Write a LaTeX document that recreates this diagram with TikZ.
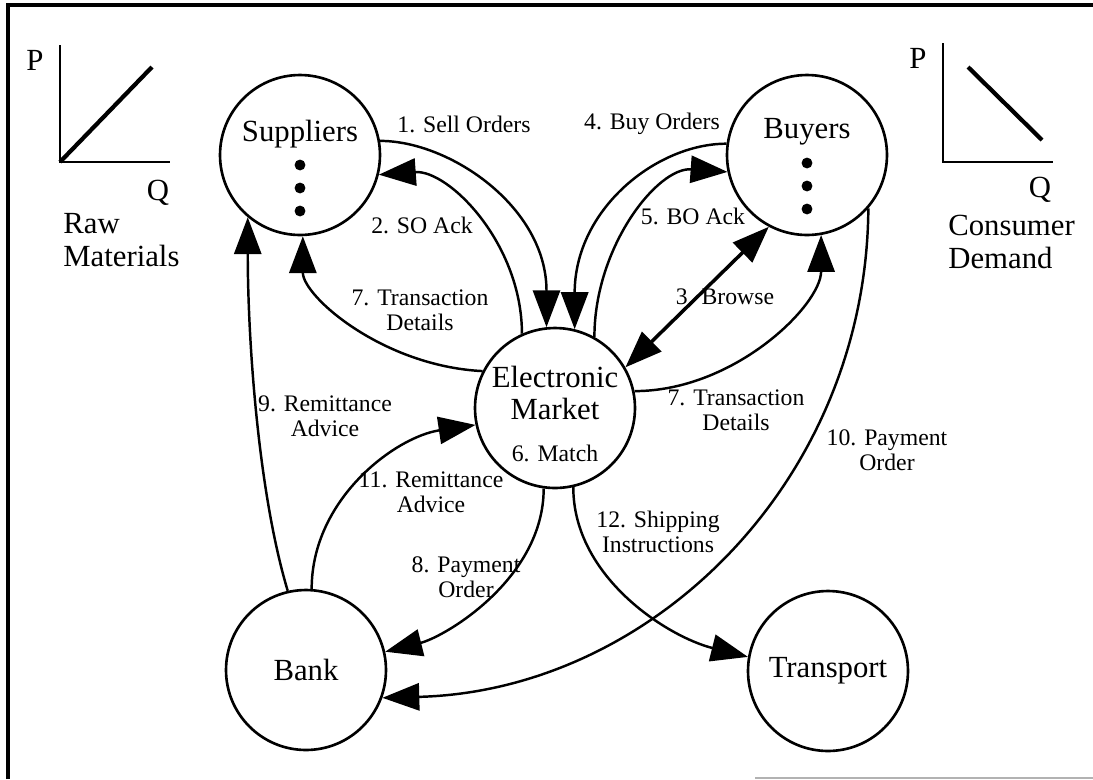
\documentclass[tikz,border=0pt]{standalone}
\usepackage{fontspec}
\setmainfont{Liberation Serif}
\usepackage{tikz}
\usetikzlibrary{arrows.meta, positioning, calc, shapes}

\newcommand{\bigsz}{\fontsize{17.5}{18.5}\selectfont}
\newcommand{\smallsz}{\fontsize{13.5}{14}\selectfont}

\begin{document}
\begin{tikzpicture}[x=0.02cm, y=-0.02cm,
		party/.style={circle, draw, line width=1.5pt, minimum size=3.2cm, inner sep=0pt, font=\bigsz},
		flow/.style={line width=1.4pt, -{Triangle[length=21pt,width=15.5pt]}},
		lbl/.style={font=\smallsz, align=center, inner sep=0pt},
		big/.style={font=\bigsz, align=left, inner sep=0pt}]
		\useasboundingbox (0,0) rectangle (1093,779);
		
		% Frame
		\draw[line width=1.8pt] (8,779) -- (8,5) -- (1093,5);
		\draw[gray!60, line width=1pt] (755,778) -- (1093,778);
		
		% Supply and demand sketches
		\draw[line width=1.2pt] (60,45) -- (60,162) -- (170,162);
		\draw[line width=2.4pt] (60,162) -- (152,67);
		\node[big] (p1) at (35,60) {P};
		\node[big] (q1) at (158,193) {Q};
		\node[big, anchor=west] (raw) at (63,240) {Raw\\Materials};
		\draw[line width=1.2pt] (943,43) -- (943,162) -- (1053,162);
		\draw[line width=2.4pt] (968,67) -- (1042,140);
		\node[big] (p2) at (918,58) {P};
		\node[big] (q2) at (1040,190) {Q};
		\node[big, anchor=west] (cons) at (948,242) {Consumer\\Demand};
		
		% Parties
		\node[party] (sup) at (300,155) {};
		\node[party] (buy) at (807,155) {};
		\node[party] (mkt) at (555,408) {};
		\node[party] (bank) at (306,670) {Bank};
		\node[party] (trans) at (828,671) {Transport};
		\node[font=\bigsz] (suptxt) at (300,134) {Suppliers};
		\node[font=\bigsz] (buytxt) at (807,132) {Buyers};
		\node[font=\bigsz, align=center] (mkttxt) at (555,393) {Electronic\\Market};
		\node[lbl] (match) at (555,453) {6. Match};
		\foreach \y in {165,188,211} {
			\fill (300,\y) circle[radius=3.1pt];
			\fill (807,\y-2) circle[radius=3.1pt];
		}
		
		% Flows
		\draw[flow] (sup.10) .. controls +(70,0) and +(0,-120) .. (mkt.96);
		\draw[flow] (mkt.114) .. controls +(0,-90) and +(70,-5) .. (sup.-14);
		\draw[flow] (buy.172) .. controls +(-70,0) and +(0,-120) .. (mkt.76);
		\draw[flow] (mkt.61) .. controls +(0,-90) and +(-70,-5) .. (buy.-168);
		\draw[line width=2pt, {Triangle[length=21pt,width=15.5pt]}-{Triangle[length=21pt,width=15.5pt]}] (mkt.30) -- (buy.-118);
		\draw[flow] (mkt.153) .. controls +(-100,-5) and +(0,60) .. (sup.-88);
		\draw[flow] (mkt.12) .. controls +(100,0) and +(0,70) .. (buy.-80);
		\draw[flow] (bank.103) .. controls +(-30,-100) and +(0,120) .. (sup.-130);
		\draw[flow] (bank.86) .. controls +(0,-90) and +(-80,12) .. (mkt.192);
		\draw[flow] (mkt.-98) .. controls +(0,90) and +(60,-15) .. (bank.13);
		\draw[flow] (buy.-41) .. controls +(-2,273) and +(269,-7) .. (bank.-20);
		\draw[flow] (mkt.-77) .. controls +(0,90) and +(-80,-20) .. (trans.170);
		
		% Labels
		\node[lbl] (l1) at (464,124) {1. Sell Orders};
		\node[lbl] (l4) at (652,124) {4. Buy Orders};
		\node[lbl] (l2) at (422,225) {2. SO Ack};
		\node[lbl] (l5) at (693,216) {5. BO Ack};
		\node[lbl] (l3) at (725,297) {3. Browse};
		\node[lbl] (l7a) at (420,310) {7. Transaction\\Details};
		\node[lbl] (l7b) at (736,410) {7. Transaction\\Details};
		\node[lbl] (l9) at (325,416) {9. Remittance\\Advice};
		\node[lbl] (l11) at (431,492) {11. Remittance\\Advice};
		\node[lbl] (l8) at (466,577) {8. Payment\\Order};
		\node[lbl] (l10) at (887,450) {10. Payment\\Order};
		\node[lbl] (l12) at (658,532) {12. Shipping\\Instructions};
	\end{tikzpicture}
\end{document}
